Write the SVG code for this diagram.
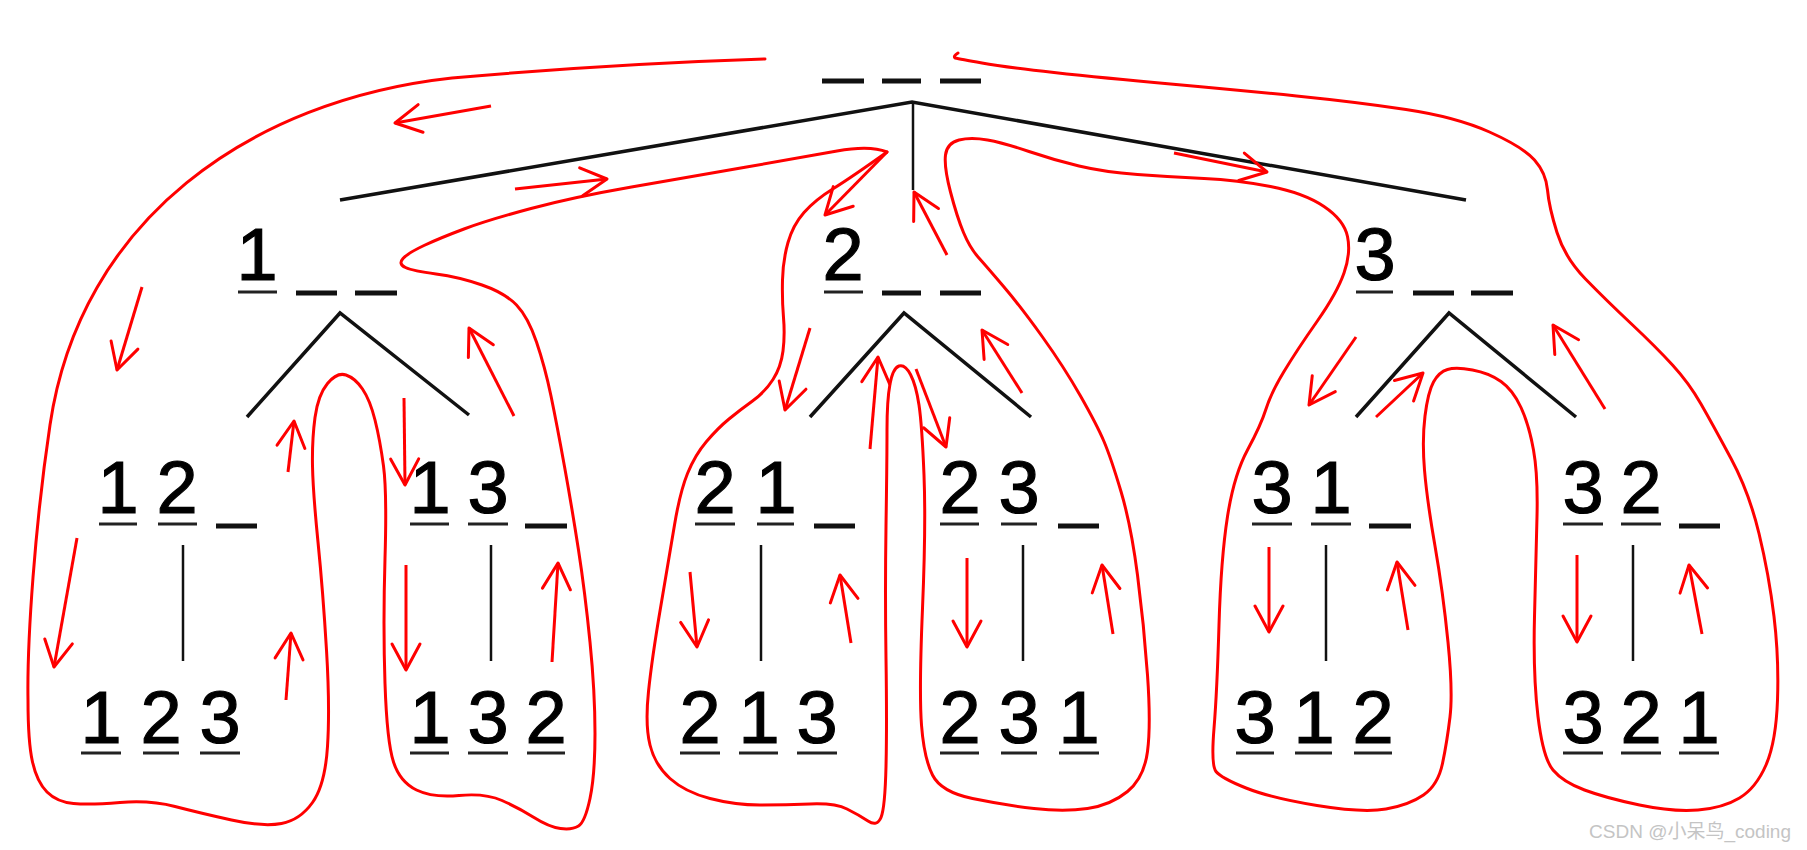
<svg xmlns="http://www.w3.org/2000/svg" width="1807" height="850" viewBox="0 0 1807 850">
<style>
.d{font-family:"Liberation Sans",Arial,sans-serif;font-size:74px;fill:#000;stroke:#000;stroke-width:1.2;text-anchor:middle}
.u{stroke:#222;stroke-width:3}
.b{stroke:#111;stroke-width:5}
.t{stroke:#111;stroke-width:3.5;fill:none}
.v{stroke:#111;stroke-width:2.5}
.r{stroke:#ff0000;stroke-width:3;fill:none;stroke-linecap:round;stroke-linejoin:round}
.a{stroke:#ff0000;stroke-width:3;fill:none;marker-end:url(#ah)}
.wm{font-family:"Liberation Sans","Noto Sans CJK SC",sans-serif;font-size:19px;fill:#c4c4c4;text-anchor:end}
</style>
<defs>
<marker id="ah" markerWidth="34" markerHeight="34" refX="28" refY="16" orient="auto" markerUnits="userSpaceOnUse" overflow="visible">
<path d="M2,2 L28,16 L2,30" fill="none" stroke="#ff0000" stroke-width="3" stroke-linecap="round" stroke-linejoin="round"/>
</marker>
</defs>
<rect width="1807" height="850" fill="#fff"/>

<g id="root">
<line class="b" x1="822" y1="81" x2="864" y2="81"/>
<line class="b" x1="882" y1="81" x2="921" y2="81"/>
<line class="b" x1="940" y1="81" x2="981" y2="81"/>
</g>

<g id="n1">
<text class="d" x="257" y="280">1</text>
<line class="u" x1="238" y1="292" x2="277" y2="292"/>
<line class="b" x1="296" y1="293" x2="337" y2="293"/>
<line class="b" x1="355" y1="293" x2="397" y2="293"/>
</g>
<g id="n2">
<text class="d" x="843" y="280">2</text>
<line class="u" x1="824" y1="292" x2="863" y2="292"/>
<line class="b" x1="882" y1="293" x2="921" y2="293"/>
<line class="b" x1="940" y1="293" x2="981" y2="293"/>
</g>
<g id="n3">
<text class="d" x="1375" y="280">3</text>
<line class="u" x1="1356" y1="292" x2="1393" y2="292"/>
<line class="b" x1="1413" y1="293" x2="1454" y2="293"/>
<line class="b" x1="1471" y1="293" x2="1513" y2="293"/>
</g>

<g id="n12">
<text class="d" x="118" y="513">1</text><text class="d" x="177" y="513">2</text>
<line class="u" x1="99" y1="524" x2="137" y2="524"/>
<line class="u" x1="158" y1="524" x2="197" y2="524"/>
<line class="b" x1="216" y1="526" x2="257" y2="526"/>
</g>
<g id="n13">
<text class="d" x="430" y="513">1</text><text class="d" x="488" y="513">3</text>
<line class="u" x1="410" y1="524" x2="449" y2="524"/>
<line class="u" x1="468" y1="524" x2="508" y2="524"/>
<line class="b" x1="525" y1="526" x2="567" y2="526"/>
</g>
<g id="n21">
<text class="d" x="715" y="513">2</text><text class="d" x="776" y="513">1</text>
<line class="u" x1="695" y1="524" x2="735" y2="524"/>
<line class="u" x1="757" y1="524" x2="794" y2="524"/>
<line class="b" x1="814" y1="526" x2="855" y2="526"/>
</g>
<g id="n23">
<text class="d" x="960" y="513">2</text><text class="d" x="1019" y="513">3</text>
<line class="u" x1="940" y1="524" x2="979" y2="524"/>
<line class="u" x1="1001" y1="524" x2="1037" y2="524"/>
<line class="b" x1="1058" y1="526" x2="1099" y2="526"/>
</g>
<g id="n31">
<text class="d" x="1272" y="513">3</text><text class="d" x="1331" y="513">1</text>
<line class="u" x1="1252" y1="524" x2="1292" y2="524"/>
<line class="u" x1="1311" y1="524" x2="1351" y2="524"/>
<line class="b" x1="1369" y1="526" x2="1411" y2="526"/>
</g>
<g id="n32">
<text class="d" x="1583" y="513">3</text><text class="d" x="1641" y="513">2</text>
<line class="u" x1="1563" y1="524" x2="1603" y2="524"/>
<line class="u" x1="1621" y1="524" x2="1661" y2="524"/>
<line class="b" x1="1679" y1="526" x2="1720" y2="526"/>
</g>

<g id="n123">
<text class="d" x="101" y="743">1</text><text class="d" x="161" y="743">2</text><text class="d" x="220" y="743">3</text>
<line class="u" x1="81" y1="753" x2="121" y2="753"/>
<line class="u" x1="143" y1="753" x2="179" y2="753"/>
<line class="u" x1="200" y1="753" x2="240" y2="753"/>
</g>
<g id="n132">
<text class="d" x="430" y="743">1</text><text class="d" x="488" y="743">3</text><text class="d" x="546" y="743">2</text>
<line class="u" x1="410" y1="753" x2="449" y2="753"/>
<line class="u" x1="468" y1="753" x2="508" y2="753"/>
<line class="u" x1="527" y1="753" x2="565" y2="753"/>
</g>
<g id="n213">
<text class="d" x="700" y="743">2</text><text class="d" x="759" y="743">1</text><text class="d" x="817" y="743">3</text>
<line class="u" x1="680" y1="753" x2="720" y2="753"/>
<line class="u" x1="739" y1="753" x2="778" y2="753"/>
<line class="u" x1="797" y1="753" x2="837" y2="753"/>
</g>
<g id="n231">
<text class="d" x="960" y="743">2</text><text class="d" x="1019" y="743">3</text><text class="d" x="1079" y="743">1</text>
<line class="u" x1="940" y1="753" x2="979" y2="753"/>
<line class="u" x1="1001" y1="753" x2="1037" y2="753"/>
<line class="u" x1="1059" y1="753" x2="1099" y2="753"/>
</g>
<g id="n312">
<text class="d" x="1255" y="743">3</text><text class="d" x="1314" y="743">1</text><text class="d" x="1373" y="743">2</text>
<line class="u" x1="1236" y1="753" x2="1274" y2="753"/>
<line class="u" x1="1295" y1="753" x2="1332" y2="753"/>
<line class="u" x1="1354" y1="753" x2="1392" y2="753"/>
</g>
<g id="n321">
<text class="d" x="1583" y="743">3</text><text class="d" x="1641" y="743">2</text><text class="d" x="1699" y="743">1</text>
<line class="u" x1="1563" y1="753" x2="1603" y2="753"/>
<line class="u" x1="1621" y1="753" x2="1661" y2="753"/>
<line class="u" x1="1679" y1="753" x2="1719" y2="753"/>
</g>

<g id="connectors">
<polyline class="t" points="340,200 912,102 1466,200"/>
<line class="v" x1="913" y1="102" x2="913" y2="190"/>
<polyline class="t" points="247,417 340,313 469,415"/>
<polyline class="t" points="810,417 904,313 1031,417"/>
<polyline class="t" points="1356,417 1449,313 1576,417"/>
<line class="v" x1="183" y1="545" x2="183" y2="661"/>
<line class="v" x1="491" y1="545" x2="491" y2="661"/>
<line class="v" x1="761" y1="545" x2="761" y2="661"/>
<line class="v" x1="1023" y1="545" x2="1023" y2="661"/>
<line class="v" x1="1326" y1="545" x2="1326" y2="661"/>
<line class="v" x1="1633" y1="545" x2="1633" y2="661"/>
</g>

<g id="traversal">
<path class="r" d="M765,59 Q610,64 452,78 C250,100 80,220 50,425 C35,525 27,640 28,700 Q28,742 32.5,762 Q37,782 47,792 Q57,802 73.5,803.5 Q90,805 120,802.5 Q150,800 175,806.5 Q200,813 231.5,820 Q263,827 281.5,823.5 Q300,820 312.5,802.5 Q325,785 327.5,746.5 Q330,708 326.5,650 Q323,592 318,542 Q313,492 312.5,466 Q312,440 315,417.5 Q318,395 327.5,383.5 Q337,372 346,375 Q355,378 362.5,389 Q370,400 375,420 Q380,440 383.5,466 Q387,492 385,558.5 Q383,625 385,683.5 Q387,742 393.5,762 Q400,782 416.5,790 Q433,798 459,795.5 Q485,793 502,800.5 Q519,808 534,817.5 Q549,827 560.5,828.5 Q572,830 578.5,826 Q585,822 590,798.5 Q595,775 595,733.5 Q595,692 590,642 Q585,592 578.5,550 Q572,508 564.5,466.5 Q557,425 551,396 Q545,367 536.5,342 Q528,317 516.5,305 Q505,293 482,285 Q459,277 436,274 Q413,271 405.5,267.5 Q398,264 403,258.5 Q408,253 424,245.5 Q440,238 464,229 Q488,220 531,208.5 Q574,197 631.5,187 Q689,177 746.5,167 Q804,157 837,151 Q870,145 887,152"/>
<path class="r" d="M887,152 Q852,177 833.5,188.5 Q815,200 804,212.5 Q793,225 788,242.5 Q783,260 782.5,280 Q782,300 783.5,317.5 Q785,335 783,351 Q781,367 773,379.5 Q765,392 752.5,401 Q740,410 729,419 Q718,428 706.5,441.5 Q695,455 687.5,473.5 Q680,492 674.5,525 Q669,558 660.5,608 Q652,658 648.5,691.5 Q645,725 650,745 Q655,765 670,778.5 Q685,792 710,798.5 Q735,805 760,805 Q785,805 810,804 Q835,803 847,809 Q859,815 868,821 Q877,827 881,817.5 Q885,808 886,766.5 Q887,725 886,658.5 Q885,592 886,526 Q887,460 887,430 Q887,400 890,384 Q893,368 899,366 Q905,364 910.5,374.5 Q916,385 919,405 Q922,425 924,475 Q926,525 922.5,608.5 Q919,692 921.5,725 Q924,758 932.5,775 Q941,792 972.5,798.5 Q1004,805 1034,808.5 Q1064,812 1087.5,808.5 Q1111,805 1127.5,791.5 Q1144,778 1147.5,751.5 Q1151,725 1147.5,675 Q1144,625 1137.5,575 Q1131,525 1121,491.5 Q1111,458 1104,441.5 Q1097,425 1080.5,396 Q1064,367 1042.5,337 Q1021,307 1004,287 Q987,267 978.5,257.5 Q970,248 963.5,232.5 Q957,217 950.5,192 Q944,167 945.5,155 Q947,143 959,140 Q971,137 987.5,140 Q1004,143 1029,151.5 Q1054,160 1079,166 Q1104,172 1137.5,174.5 Q1171,177 1204,178.5 Q1237,180 1270.5,186.5 Q1304,193 1324,206.5 Q1344,220 1347.5,236.5 Q1351,253 1344,273 Q1337,293 1317,321.5 Q1297,350 1284,371.5 Q1271,393 1266,409 Q1261,425 1247.5,450 Q1234,475 1227.5,516.5 Q1221,558 1219,625 Q1217,692 1214,728.5 Q1211,765 1216,771.5 Q1221,778 1246,788 Q1271,798 1317,805.5 Q1363,813 1386,809 Q1409,805 1423.5,795 Q1438,785 1442.5,763.5 Q1447,742 1450,717 Q1453,692 1448,642 Q1443,592 1435,546 Q1427,500 1424.5,470 Q1422,440 1425,416 Q1428,392 1433.5,382 Q1439,372 1447.5,369.5 Q1456,367 1472.5,370 Q1489,373 1501,381.5 Q1513,390 1521,407.5 Q1529,425 1533.5,450 Q1538,475 1537,516.5 Q1536,558 1534.5,616.5 Q1533,675 1538,716.5 Q1543,758 1553,770 Q1563,782 1584.5,790 Q1606,798 1639.5,805 Q1673,812 1698,810 Q1723,808 1739.5,798 Q1756,788 1766,765 Q1776,742 1777.5,700 Q1779,658 1774,616.5 Q1769,575 1759,533.5 Q1749,492 1731,458.5 Q1713,425 1701,404 Q1689,383 1672.5,365 Q1656,347 1631,323.5 Q1606,300 1585.5,279 Q1565,258 1557,232.5 Q1549,207 1547.5,190 Q1546,173 1534.5,160 Q1523,147 1489.5,132 Q1456,117 1406,109.5 Q1356,102 1296.5,96 Q1237,90 1170.5,84 Q1104,78 1054,72.5 Q1004,67 982,63 Q960,59 955,58 Q953,56 958,53"/>
<line class="a" x1="491" y1="106" x2="395" y2="123"/>
<line class="a" x1="142" y1="287" x2="117" y2="370"/>
<line class="a" x1="515" y1="189" x2="607" y2="179"/>
<line class="a" x1="887" y1="152" x2="825" y2="215"/>
<line class="a" x1="810" y1="328" x2="785" y2="410"/>
<line class="a" x1="514" y1="416" x2="469" y2="328"/>
<line class="a" x1="947" y1="255" x2="914" y2="192"/>
<line class="a" x1="1174" y1="153" x2="1267" y2="172"/>
<line class="a" x1="1022" y1="393" x2="982" y2="330"/>
<line class="a" x1="1356" y1="337" x2="1309" y2="405"/>
<line class="a" x1="1376" y1="417" x2="1423" y2="373"/>
<line class="a" x1="1605" y1="409" x2="1553" y2="325"/>
<line class="a" x1="870" y1="449" x2="878" y2="357"/>
<line class="a" x1="916" y1="369" x2="946" y2="447"/>
<line class="a" x1="404" y1="398" x2="405" y2="485"/>
<line class="a" x1="288" y1="472" x2="294" y2="421"/>
<line class="a" x1="77" y1="538" x2="54" y2="667"/>
<line class="a" x1="286" y1="700" x2="291" y2="633"/>
<line class="a" x1="406" y1="565" x2="406" y2="670"/>
<line class="a" x1="552" y1="662" x2="558" y2="563"/>
<line class="a" x1="690" y1="572" x2="697" y2="647"/>
<line class="a" x1="851" y1="643" x2="840" y2="575"/>
<line class="a" x1="967" y1="558" x2="967" y2="647"/>
<line class="a" x1="1113" y1="634" x2="1102" y2="565"/>
<line class="a" x1="1269" y1="547" x2="1269" y2="632"/>
<line class="a" x1="1408" y1="630" x2="1397" y2="562"/>
<line class="a" x1="1577" y1="555" x2="1577" y2="642"/>
<line class="a" x1="1702" y1="634" x2="1689" y2="565"/>
</g>

<text class="wm" x="1791" y="838">CSDN @小呆鸟_coding</text>
</svg>
